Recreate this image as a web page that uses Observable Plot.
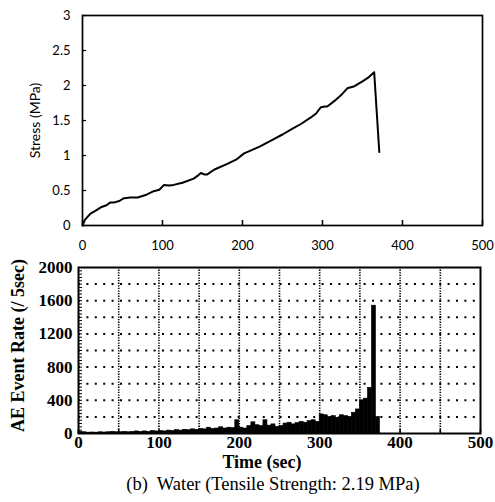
<!DOCTYPE html>
<html><head><meta charset="utf-8">
<script src="https://cdn.jsdelivr.net/npm/d3@7"></script>
<script src="https://cdn.jsdelivr.net/npm/@observablehq/plot@0.6"></script>
<style>
body{margin:0;background:#fff;}
#wrap{position:relative;width:495px;height:502px;background:#fff;overflow:hidden;}
#top,#bot{position:absolute;left:0;}
#top{top:0}
#bot{top:250px}
.lbl{position:absolute;white-space:nowrap;color:#000;font-family:"Liberation Serif",serif;line-height:1;transform:translate(-50%,-50%);}
#xlab{left:262px;top:462px;font-size:18px;font-weight:bold;}
#cap{left:273px;top:484px;font-size:18.5px;}
</style></head><body>
<div id="wrap">
 <div id="top"></div>
 <div id="bot"></div>
 <div class="lbl" id="xlab">Time (sec)</div>
 <div class="lbl" id="cap">(b)&nbsp; Water (Tensile Strength: 2.19 MPa)</div>
</div>
<script>
// ---- Stress curve (top) ----
const stressTime = [0, 3, 6, 10, 16, 23, 30, 35, 40, 46, 52, 60, 69, 80, 89, 96, 102, 108, 114, 125, 139, 145, 148, 152, 156, 165, 181, 192, 202, 210, 222, 235, 250, 262, 273, 285, 292, 298, 303, 306, 315, 323, 331, 340, 350, 358, 364.6, 371];
const stressValue = [0, 0.08, 0.12, 0.17, 0.21, 0.26, 0.29, 0.33, 0.33, 0.35, 0.39, 0.40, 0.40, 0.44, 0.49, 0.51, 0.58, 0.57, 0.58, 0.61, 0.67, 0.72, 0.75, 0.73, 0.73, 0.80, 0.88, 0.94, 1.03, 1.07, 1.13, 1.21, 1.30, 1.38, 1.45, 1.54, 1.60, 1.69, 1.70, 1.70, 1.78, 1.86, 1.96, 1.99, 2.06, 2.12, 2.19, 1.05];
const stressXTicks = [0, 100, 200, 300, 400, 500];
const stressYTicks = [0, 0.5, 1, 1.5, 2, 2.5, 3];
const stressYLabel = "Stress (MPa)";

// ---- AE event rate (bottom), 5-second bins starting at 0 s ----
const aeBinWidth = 5;
const aeRate = [20,15,10,12,10,15,12,15,20,15,15,20,15,20,25,20,25,20,30,25,
                30,25,35,30,40,35,45,40,50,45,55,50,70,55,60,75,60,70,65,160,
                70,60,90,135,100,90,160,95,110,80,90,120,130,110,125,140,130,150,160,140,
                230,220,200,210,190,220,210,200,250,290,400,420,550,1540,200];
const aeXTicks = [0, 100, 200, 300, 400, 500];
const aeYTicks = [0, 400, 800, 1200, 1600, 2000];
const aeVGrid = [50, 100, 150, 200, 250, 300, 350, 400, 450];
const aeHGrid = [200, 400, 600, 800, 1000, 1200, 1400, 1600, 1800];
const aeYMinor = d3.range(0, 2001, 40);
const aeXMinor = [0, 50, 100, 150, 200, 250, 300, 350, 400, 450, 500];
const aeYLabel = "AE Event Rate (/ 5sec)";

const stressData = stressTime.map((t, i) => ({t, s: stressValue[i]}));
const aeData = aeRate.map((v, i) => ({t0: i * aeBinWidth, t1: (i + 1) * aeBinWidth, v}));

const topPlot = Plot.plot({
  width: 495, height: 255,
  marginLeft: 82, marginRight: 13, marginTop: 15, marginBottom: 30,
  style: {fontFamily: "Lato, sans-serif", fontSize: "13px", background: "transparent", color: "black", overflow: "visible"},
  x: {domain: [0, 500], label: null},
  y: {domain: [0, 3], label: null},
  marks: [
    Plot.axisX({ticks: stressXTicks, tickSize: 0, tickPadding: 15, tickFormat: d => String(d), label: null}),
    Plot.axisX({ticks: stressXTicks, tickSize: 5, dy: -5, fill: "none", strokeWidth: 1.5, label: null}),
    Plot.axisY({ticks: stressYTicks, tickSize: 0, tickPadding: 12, tickFormat: d => String(d), label: null}),
    Plot.axisY({ticks: stressYTicks, tickSize: 4, dx: 4, fill: "none", strokeWidth: 1.2, label: null}),
    Plot.frame({stroke: "black", strokeWidth: 1.7}),
    Plot.line(stressData, {x: "t", y: "s", stroke: "black", strokeWidth: 2}),
    Plot.text([stressYLabel], {frameAnchor: "left", textAnchor: "middle", rotate: -90, dx: -47, text: d => d, fontSize: 14})
  ]
});
document.getElementById("top").appendChild(topPlot);

const botPlot = Plot.plot({
  width: 495, height: 225,
  marginLeft: 78, marginRight: 15, marginTop: 17, marginBottom: 42,
  style: {fontFamily: "'Liberation Serif', serif", fontSize: "17px", fontWeight: "bold", background: "transparent", color: "black", overflow: "visible"},
  x: {domain: [0, 500], label: null},
  y: {domain: [0, 2000], label: null},
  marks: [
    Plot.ruleY(aeHGrid, {stroke: "black", strokeWidth: 2, strokeDasharray: "2,6.4"}),
    Plot.ruleX(aeVGrid, {stroke: "black", strokeWidth: 1.6, strokeDasharray: "1.3,1.3"}),
    Plot.rectY(aeData, {x1: "t0", x2: "t1", y: "v", fill: "black", stroke: "black", strokeWidth: 0.6}),
    Plot.axisX({ticks: aeXTicks, tickSize: 0, tickPadding: 2, tickFormat: d => String(d), label: null}),
    Plot.axisX({ticks: aeXMinor, tickSize: 4, dy: -4, fill: "none", strokeWidth: 1.5, label: null}),
    Plot.axisY({ticks: aeYTicks, tickSize: 0, tickPadding: 6, tickFormat: d => String(d), label: null}),
    Plot.axisY({ticks: aeYMinor, tickSize: 4, dx: 4, fill: "none", strokeWidth: 1, label: null}),
    Plot.frame({stroke: "black", strokeWidth: 2}),
    Plot.text([aeYLabel], {frameAnchor: "left", textAnchor: "middle", rotate: -90, dx: -60, dy: -5, text: d => d, fontSize: 18, fontWeight: "bold"})
  ]
});
document.getElementById("bot").appendChild(botPlot);
</script>
</body></html>
